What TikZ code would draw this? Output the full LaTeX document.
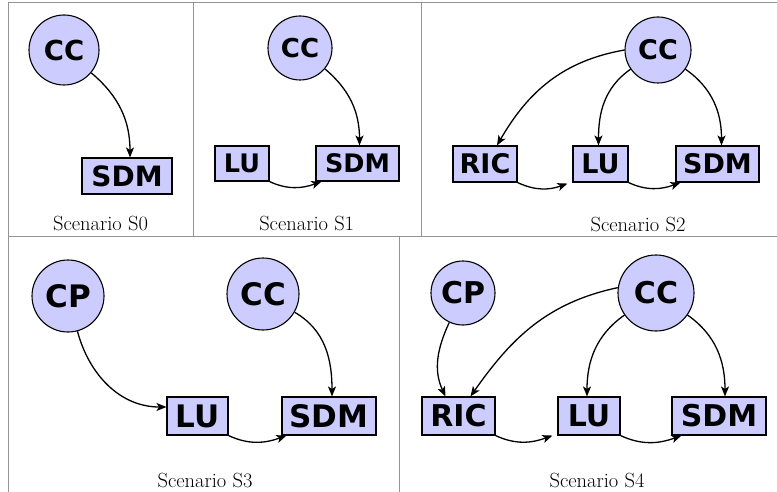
\documentclass[tikz,border=0pt]{standalone}
\usepackage{fontspec}
\newfontfamily\nodefont{DejaVu Sans}
\usetikzlibrary{arrows.meta}
\begin{document}
\begin{tikzpicture}[x=1pt,y=1pt,
  frame/.style={draw=black!42, line width=1pt},
  circ/.style={circle, draw=black, fill=blue!20, line width=1.1pt, inner sep=0pt,
    font=\nodefont\bfseries\fontsize{#1}{#1}\selectfont},
  boxn/.style={rectangle, draw=black, fill=blue!20, line width=1.1pt, inner sep=0pt,
    font=\nodefont\bfseries\fontsize{#1}{#1}\selectfont},
  arr/.style={-{Stealth[length=10pt,width=8pt,inset=2.5pt]}, line width=1.3pt},
  captxt/.style={anchor=base, font=\fontsize{20.5}{22}\selectfont}]
\useasboundingbox (0,0) rectangle (777,-492);
% frame
\draw[frame] (8,-3) -- (777,-3);
\draw[frame] (8,-3) -- (8,-492);
\draw[frame] (8,-236) -- (777,-236);
\draw[frame] (193,-3) -- (193,-236);
\draw[frame] (421,-3) -- (421,-236);
\draw[frame] (399,-236) -- (399,-492);
% S0
\node[circ=27.5, minimum size=70] (cc0) at (64,-50) {CC};
\node[boxn=28, minimum width=90, minimum height=36] (sdm0) at (127,-176) {SDM};
\draw[arr] (cc0) to[out=-40,in=90] ([xshift=3]sdm0.north);
\node[captxt] (t0) at (100.5,-230) {Scenario S0};
% S1
\node[circ=26, minimum size=64] (cc1) at (300,-48) {CC};
\node[boxn=25.5, minimum width=54, minimum height=35] (lu1) at (242,-163.5) {LU};
\node[boxn=25.5, minimum width=83, minimum height=35] (sdm1) at (357.5,-163.5) {SDM};
\draw[arr] (cc1) to[out=-40,in=90] ([xshift=2]sdm1.north);
\draw[arr] (lu1.south east) to[out=-25,in=200] ([xshift=6]sdm1.south west);
\node[captxt] (t1) at (306.7,-230) {Scenario S1};
% S2
\node[circ=27, minimum size=66] (cc2) at (658,-50) {CC};
\node[boxn=27, minimum width=64, minimum height=36] (ric2) at (485,-164) {RIC};
\node[boxn=27, minimum width=55, minimum height=36] (lu2) at (600.5,-164) {LU};
\node[boxn=27, minimum width=83, minimum height=36] (sdm2) at (717.5,-164) {SDM};
\draw[arr] (cc2.180) to[out=190,in=60] ([xshift=12]ric2.north);
\draw[arr] (cc2) to[out=215,in=90] ([xshift=-2]lu2.north);
\draw[arr] (cc2) to[out=-35,in=90] ([xshift=4]sdm2.north);
\draw[arr] (ric2.south east) to[out=-25,in=200] ([xshift=-5,yshift=-1]lu2.south west);
\draw[arr] (lu2.south east) to[out=-25,in=200] ([xshift=5]sdm2.south west);
\node[captxt] (t2) at (638,-231) {Scenario S2};
% S3
\node[circ=31, minimum size=72] (cp3) at (68,-296) {CP};
\node[circ=31, minimum size=72] (cc3) at (263,-294) {CC};
\node[boxn=31, minimum width=61, minimum height=38] (lu3) at (197.5,-416) {LU};
\node[boxn=31, minimum width=94, minimum height=38] (sdm3) at (329,-416) {SDM};
\draw[arr] (cp3) to[out=-75,in=180] ([yshift=9]lu3.west);
\draw[arr] (cc3) to[out=-30,in=90] ([xshift=3]sdm3.north);
\draw[arr] (lu3.south east) to[out=-25,in=200] ([xshift=5]sdm3.south west);
\node[captxt] (t3) at (205,-487) {Scenario S3};
% S4
\node[circ=30, minimum size=64] (cp4) at (463,-293) {CP};
\node[circ=30, minimum size=76] (cc4) at (656,-293) {CC};
\node[boxn=30, minimum width=73, minimum height=38] (ric4) at (458.5,-416) {RIC};
\node[boxn=30, minimum width=62, minimum height=38] (lu4) at (589,-416) {LU};
\node[boxn=30, minimum width=94, minimum height=38] (sdm4) at (719,-416) {SDM};
\draw[arr] (cp4) to[out=-115,in=115] ([xshift=-13]ric4.north);
\draw[arr] (cc4.172) to[out=192,in=55] ([xshift=12]ric4.north);
\draw[arr] (cc4) to[out=-145,in=90] ([xshift=-2]lu4.north);
\draw[arr] (cc4) to[out=-35,in=90] ([xshift=6]sdm4.north);
\draw[arr] (ric4.south east) to[out=-25,in=200] ([xshift=-5]lu4.south west);
\draw[arr] (lu4.south east) to[out=-25,in=200] ([xshift=10]sdm4.south west);
\node[captxt] (t4) at (597,-487) {Scenario S4};
\end{tikzpicture}
\end{document}
